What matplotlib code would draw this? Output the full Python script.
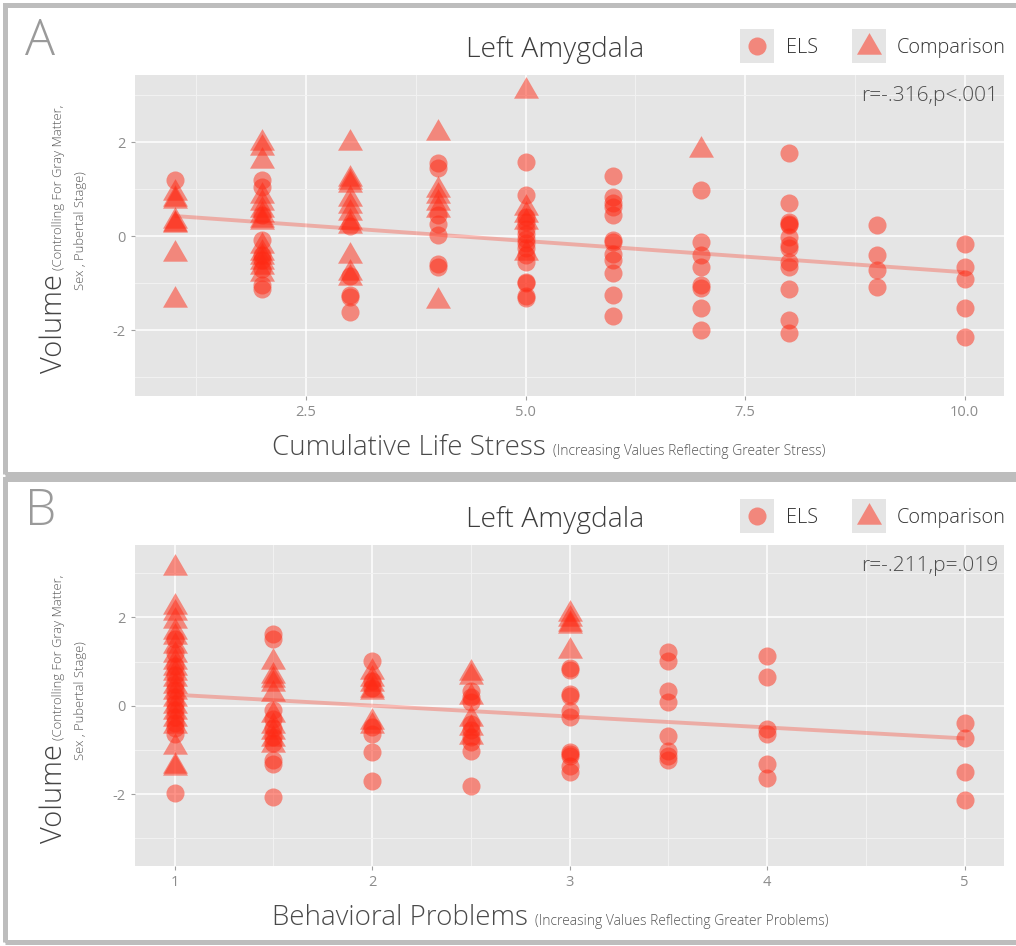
import numpy as np
import matplotlib
matplotlib.use('Agg')
import matplotlib.pyplot as plt
from matplotlib.patches import Rectangle
from matplotlib.lines import Line2D

W, H = 1016, 946

# Panel A: volume by cumulative life stress (values grouped by x)
a_els = {
    1: [1.19],
    2: [1.19, 1.05, 0.45, -0.09, -0.4, -0.5, -0.7, -1.04, -1.12],
    3: [0.22, -0.85, -1.25, -1.3, -1.62],
    4: [1.55, 1.45, 0.45, 0.27, 0.02, -0.6, -0.65],
    5: [1.58, 0.87, 0.4, 0.3, 0.15, 0.05, -0.05, -0.15, -0.25, -0.4, -0.55, -0.97, -1.0, -1.28, -1.32],
    6: [1.28, 0.84, 0.70, 0.62, 0.45, -0.09, -0.12, -0.37, -0.51, -0.79, -1.26, -1.70],
    7: [0.98, -0.12, -0.40, -0.65, -1.04, -1.11, -1.52, -1.99],
    8: [1.76, 0.71, 0.30, 0.27, 0.23, -0.01, -0.19, -0.26, -0.55, -0.65, -1.13, -1.79, -2.07],
    9: [0.23, -0.40, -0.72, -1.09],
    10: [-0.16, -0.65, -0.92, -1.52, -2.14],
}
a_cmp = {
    1: [0.91, 0.8, 0.75, 0.32, 0.27, 0.23, -0.38, -1.36],
    2: [1.98, 1.87, 1.6, 0.85, 0.7, 0.55, 0.45, 0.35, 0.3, -0.2, -0.35, -0.45, -0.55, -0.65, -0.8],
    3: [1.98, 1.22, 1.15, 1.1, 0.8, 0.65, 0.5, 0.3, 0.22, -0.42, -0.78, -0.88],
    4: [2.2, 0.98, 0.85, 0.7, 0.55, -1.38],
    5: [3.1, 0.6, 0.45, 0.3, -0.35],
    7: [1.83],
}
a_fit = [0.563, -0.133]  # intercept, slope
a_fit_range = [1, 10]
a_xticks = [2.5, 5.0, 7.5, 10.0]
a_xticklabels = ['2.5', '5.0', '7.5', '10.0']
a_stat = 'r=-.316,p<.001'

# Panel B: volume by behavioral problems
b_els = {
    1: [1.5, 1.2, 0.9, 0.7, 0.5, 0.35, 0.2, 0.05, -0.1, -0.25, -0.4, -0.5, -0.64, -1.98],
    1.5: [1.62, 1.51, -0.1, -0.3, -0.5, -0.7, -0.85, -1.24, -1.32, -2.07],
    2: [1.02, 0.55, 0.4, -0.49, -0.64, -1.05, -1.70],
    2.5: [0.34, 0.2, 0.08, -0.41, -0.55, -0.7, -0.82, -1.02, -1.81],
    3: [0.85, 0.8, 0.26, 0.22, -0.11, -0.26, -1.05, -1.1, -1.13, -1.36, -1.51],
    3.5: [1.21, 1.02, 0.34, 0.08, -0.68, -1.02, -1.13, -1.24],
    4: [1.12, 0.64, -0.53, -0.64, -1.32, -1.64],
    5: [-0.39, -0.74, -1.51, -2.13],
}
b_cmp = {
    1: [3.13, 2.23, 2.11, 1.92, 1.67, 1.55, 1.35, 1.15, 1.0, 0.85, 0.75, 0.6, 0.45, 0.3,
        0.15, 0.0, -0.15, -0.3, -0.45, -0.94, -1.36, -1.42],
    1.5: [0.98, 0.68, 0.58, 0.5, 0.26, -0.2, -0.45, -0.6, -0.75, -0.9],
    2: [0.76, 0.6, 0.5, 0.35, 0.3, -0.38, -0.45],
    2.5: [0.75, 0.64, 0.2, -0.3, -0.5, -0.7],
    3: [2.07, 1.96, 1.85, 1.81, 1.24],
}
b_fit = [0.4975, -0.2475]
b_fit_range = [1, 5]
b_xticks = [1, 2, 3, 4, 5]
b_xticklabels = ['1', '2', '3', '4', '5']
b_stat = 'r=-.211,p=.019'

yticks = [-2, 0, 2]
yticklabels = ['-2', '0', '2']

plt.rcParams['font.family'] = ['Open Sans', 'DejaVu Sans']

PT_COLOR = '#FF2A14'
TRI = [(-1, -0.577), (1, -0.577), (0, 1.155)]


def fx(px):
    return px / W


def fy(py):
    return 1 - py / H


def flatten(d):
    xs = np.concatenate([[k] * len(v) for k, v in d.items()])
    ys = np.concatenate([v for v in d.values()])
    return xs, ys


fig = plt.figure(figsize=(W / 100, H / 100), dpi=100)
fig.patch.set_facecolor('white')


def draw_panel(dy, letter, els, cmp_, fit, fit_range, xlim, ylim, xticks, xticklabels,
               xminor, stat, xlab, xlab_small):
    # frame around the panel
    top = 5 if dy == 0 else 479
    bot = 474 if dy == 0 else 942
    fig.add_artist(Rectangle((fx(5), fy(bot)), fx(1060), fy(top) - fy(bot),
                             transform=fig.transFigure, fill=False,
                             edgecolor='#bdbdbd', linewidth=3.6, clip_on=False))

    ax = fig.add_axes([fx(135), fy(396 + dy), fx(1004) - fx(135), fy(75 + dy) - fy(396 + dy)])
    ax.set_facecolor('#E5E5E5')
    for s in ax.spines.values():
        s.set_visible(False)
    ax.set_xlim(xlim)
    ax.set_ylim(ylim)
    ax.set_xticks(xticks)
    ax.set_xticklabels(xticklabels)
    ax.set_xticks(xminor, minor=True)
    ax.set_yticks(yticks)
    ax.set_yticklabels(yticklabels)
    ax.set_yticks([-3, -1, 1, 3], minor=True)
    ax.grid(which='major', color='white', linewidth=1.1)
    ax.grid(which='minor', color='#F2F2F2', linewidth=0.7)
    ax.set_axisbelow(True)
    ax.tick_params(which='major', length=3, width=0.8, color='#a0a0a0',
                   labelsize=10.5, labelcolor='#8c8c8c', pad=3.5)
    ax.tick_params(which='minor', length=0)

    ex, ey = flatten(els)
    cx, cy = flatten(cmp_)
    ax.scatter(ex, ey, s=169, marker='o', color=PT_COLOR, alpha=0.5, linewidths=0, zorder=3)
    ax.scatter(cx, cy, s=430, marker=TRI, color=PT_COLOR, alpha=0.5, linewidths=0, zorder=3)

    lx = np.array(fit_range, dtype=float)
    ax.plot(lx, fit[0] + fit[1] * lx, color=PT_COLOR, alpha=0.3, linewidth=2.8, zorder=4,
            solid_capstyle='butt')

    # panel letter and title
    fig.text(fx(25), fy(55 + dy), letter, fontsize=36, color='#9a9a9a',
             fontweight='light', ha='left', va='baseline')
    fig.text(fx(555), fy(57 + dy), 'Left Amygdala', fontsize=20.3, color='#3d3d3d',
             fontweight='light', ha='center', va='baseline')

    # legend with ggplot-like keys
    for kx in (757, 869):
        fig.add_artist(Rectangle((fx(kx - 17), fy(63 + dy)), fx(34), fy(29 + dy) - fy(63 + dy),
                                 transform=fig.transFigure, facecolor='#E5E5E5',
                                 edgecolor='none'))
    fig.add_artist(Line2D([fx(757)], [fy(46 + dy)], marker='o', markersize=13,
                          color=PT_COLOR, alpha=0.5, markeredgewidth=0,
                          transform=fig.transFigure))
    fig.add_artist(Line2D([fx(869)], [fy(47 + dy)], marker=TRI, markersize=20.8,
                          color=PT_COLOR, alpha=0.5, markeredgewidth=0,
                          transform=fig.transFigure))
    fig.text(fx(786), fy(53 + dy), 'ELS', fontsize=14.3, color='#333333',
             fontweight='light', ha='left', va='baseline')
    fig.text(fx(897), fy(53 + dy), 'Comparison', fontsize=14.3, color='#333333',
             fontweight='light', ha='left', va='baseline')

    # correlation text
    fig.text(fx(998), fy(101 + dy), stat, fontsize=15, color='#4d4d4d',
             fontweight='light', ha='right', va='baseline')

    # y label: big word plus two small lines
    fig.text(fx(62), fy(373 + dy), 'Volume', fontsize=21, color='#444444', rotation=90,
             rotation_mode='anchor', ha='left', va='baseline', fontweight='light')
    fig.text(fx(62), fy(270 + dy), '(Controlling For Gray Matter,', fontsize=9.4,
             color='#555555', rotation=90, rotation_mode='anchor', ha='left',
             va='baseline', fontweight='light')
    fig.text(fx(84), fy(231 + dy), 'Sex , Pubertal Stage)', fontsize=9.4,
             color='#555555', rotation=90, rotation_mode='anchor', ha='center',
             va='baseline', fontweight='light')

    # x label: big words then small note
    big = fig.text(fx(272), fy(455 + dy), xlab, fontsize=20, color='#4a4a4a',
                   fontweight='light', ha='left', va='baseline')
    fig.canvas.draw()
    bb = big.get_window_extent()
    fig.text(fx(bb.x1 + 7), fy(455 + dy), xlab_small, fontsize=10, color='#555555',
             fontweight='light', ha='left', va='baseline')
    return ax


draw_panel(0, 'A', a_els, a_cmp, a_fit, a_fit_range, (0.55, 10.45), (-3.40, 3.43),
           a_xticks, a_xticklabels, [1.25, 3.75, 6.25, 8.75], a_stat,
           'Cumulative Life Stress', '(Increasing Values Reflecting Greater Stress)')
draw_panel(470, 'B', b_els, b_cmp, b_fit, b_fit_range, (0.8, 5.2), (-3.63, 3.64),
           b_xticks, b_xticklabels, [1.5, 2.5, 3.5, 4.5], b_stat,
           'Behavioral Problems', '(Increasing Values Reflecting Greater Problems)')

fig.savefig('out.png', dpi=100, facecolor='white')
